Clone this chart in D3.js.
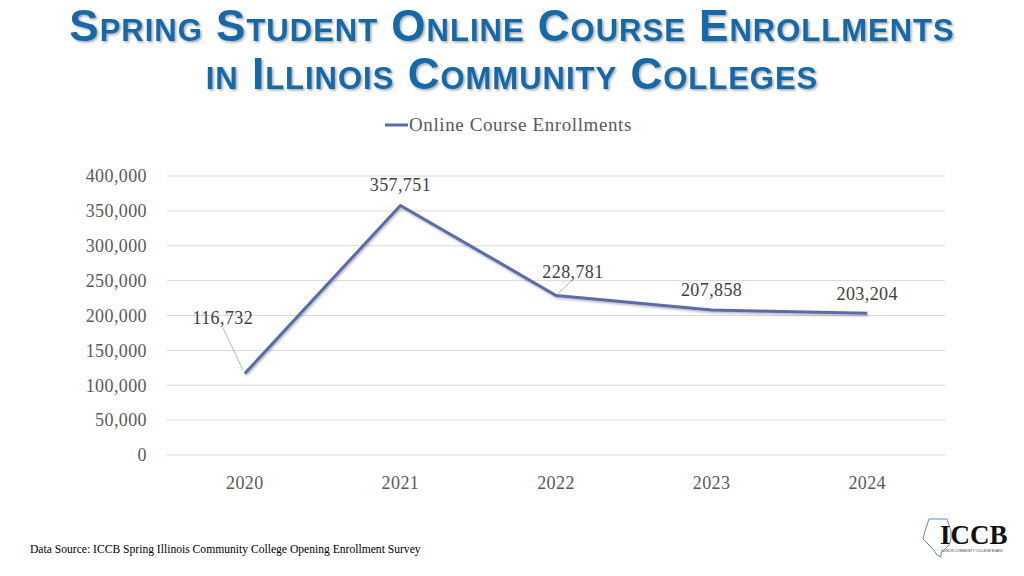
<!DOCTYPE html>
<html lang="en">
<head>
<meta charset="UTF-8">
<title>Spring Student Online Course Enrollments</title>
<script src="https://d3js.org/d3.v7.min.js"></script>
<style>
  body { margin: 0; background: #fff; }
  .title { font-family: "Liberation Sans", Arial, sans-serif; font-weight: bold; font-variant: small-caps;
           fill: #1867a6; text-anchor: middle; filter: url(#tshadow); letter-spacing: 1px; }
  .lbl { font-family: "Liberation Serif", "DejaVu Serif", serif; fill: #404040; }
  .tick text { font-family: "Liberation Serif", serif; font-size: 18px; fill: #595959; letter-spacing: 0.4px; }
</style>
</head>
<body>
<div id="chart"></div>
<script>
var years = ["2020", "2021", "2022", "2023", "2024"];
var enrollments = [116732, 357751, 228781, 207858, 203204];
var yTicks = [0, 50000, 100000, 150000, 200000, 250000, 300000, 350000, 400000];
var seriesName = "Online Course Enrollments";

var W = 1024, H = 576;
var svg = d3.select("#chart").append("svg").attr("width", W).attr("height", H);

var defs = svg.append("defs");
var f = defs.append("filter").attr("id", "tshadow").attr("x", "-5%").attr("y", "-20%").attr("width", "110%").attr("height", "140%");
f.append("feDropShadow").attr("dx", 1.5).attr("dy", 1.5).attr("stdDeviation", 1).attr("flood-color", "#000").attr("flood-opacity", 0.35);
var f2 = defs.append("filter").attr("id", "lshadow").attr("x", "-5%").attr("y", "-10%").attr("width", "110%").attr("height", "120%");
f2.append("feDropShadow").attr("dx", 1).attr("dy", 1.5).attr("stdDeviation", 1).attr("flood-color", "#000").attr("flood-opacity", 0.3);

// title
svg.append("text").attr("class", "title").attr("x", 512).attr("y", 41).style("font-size", "44px")
  .text("Spring Student Online Course Enrollments");
svg.append("text").attr("class", "title").attr("x", 512).attr("y", 89).style("font-size", "44px")
  .text("in Illinois Community Colleges");

var plotL = 167, plotR = 945, plotT = 176, plotB = 455;

var x = d3.scaleBand().domain(years).range([plotL, plotR]);
var y = d3.scaleLinear().domain([0, 400000]).range([plotB, plotT]);
var cx = function(d) { return x(d) + x.bandwidth() / 2; };

// grid
svg.append("g").selectAll("line").data(yTicks).join("line")
  .attr("x1", plotL).attr("x2", plotR)
  .attr("y1", function(d) { return y(d); }).attr("y2", function(d) { return y(d); })
  .attr("stroke", "#d9d9d9").attr("stroke-width", 1);

var yAxis = svg.append("g").attr("transform", "translate(" + plotL + ",0)")
  .call(d3.axisLeft(y).tickValues(yTicks).tickFormat(d3.format(",")).tickSize(0).tickPadding(20));
yAxis.select(".domain").remove();

var xAxis = svg.append("g").attr("transform", "translate(0," + plotB + ")")
  .call(d3.axisBottom(x).tickSize(0).tickPadding(21));
xAxis.select(".domain").remove();

// line
var pts = years.map(function(yr, i) { return { year: yr, v: enrollments[i] }; });
var line = d3.line().x(function(d) { return cx(d.year); }).y(function(d) { return y(d.v); });
svg.append("path").datum(pts).attr("d", line)
  .attr("fill", "none").attr("stroke", "#5a6aaa").attr("stroke-width", 3)
  .attr("stroke-linejoin", "round").attr("filter", "url(#lshadow)");

// data labels (offset from each point)
var offs = [[-22, -50], [0, -14], [17, -17], [0, -14], [0, -13]];
var leaders = [[-22, -46, -2, -4], null, [16, -15, 2, -2], null, null];
pts.forEach(function(d, i) {
  var px = cx(d.year), py = y(d.v);
  if (leaders[i]) {
    var L = leaders[i];
    svg.append("line").attr("x1", px + L[0]).attr("y1", py + L[1]).attr("x2", px + L[2]).attr("y2", py + L[3])
      .attr("stroke", "#a6a6a6").attr("stroke-width", 0.8);
  }
  svg.append("text").attr("class", "lbl").attr("x", px + offs[i][0]).attr("y", py + offs[i][1])
    .attr("text-anchor", "middle").style("font-size", "18px").style("letter-spacing", "0.4px")
    .text(d3.format(",")(d.v));
});

// legend
svg.append("line").attr("x1", 385).attr("x2", 408).attr("y1", 125).attr("y2", 125)
  .attr("stroke", "#5a6aaa").attr("stroke-width", 3);
svg.append("text").attr("class", "lbl").attr("x", 409).attr("y", 131).style("font-size", "19px")
  .style("letter-spacing", "0.6px").style("fill", "#595959").text(seriesName);

// source
svg.append("text").attr("class", "lbl").attr("x", 30).attr("y", 553).style("font-size", "11.6px")
  .style("fill", "#000").text("Data Source: ICCB Spring Illinois Community College Opening Enrollment Survey");

// logo
var logo = svg.append("g").attr("transform", "translate(921,517)");
logo.append("path")
  .attr("d", "M8,2 L26,2 L28,8 L30,14 L30,22 L28,28 L24,32 L20,36 L20,40 L16,38 L12,32 L6,26 L2,22 L4,14 L6,8 Z")
  .attr("fill", "none").attr("stroke", "#6a8aa8").attr("stroke-width", 1);
logo.append("text").attr("x", 19).attr("y", 27).style("font-family", "Liberation Serif, serif")
  .style("font-weight", "bold").style("font-size", "27px").attr("fill", "#111").text("ICCB");
logo.append("text").attr("x", 20).attr("y", 35).style("font-family", "Liberation Sans, sans-serif")
  .style("font-size", "3.2px").attr("fill", "#333").text("ILLINOIS COMMUNITY COLLEGE BOARD");
</script>
</body>
</html>
